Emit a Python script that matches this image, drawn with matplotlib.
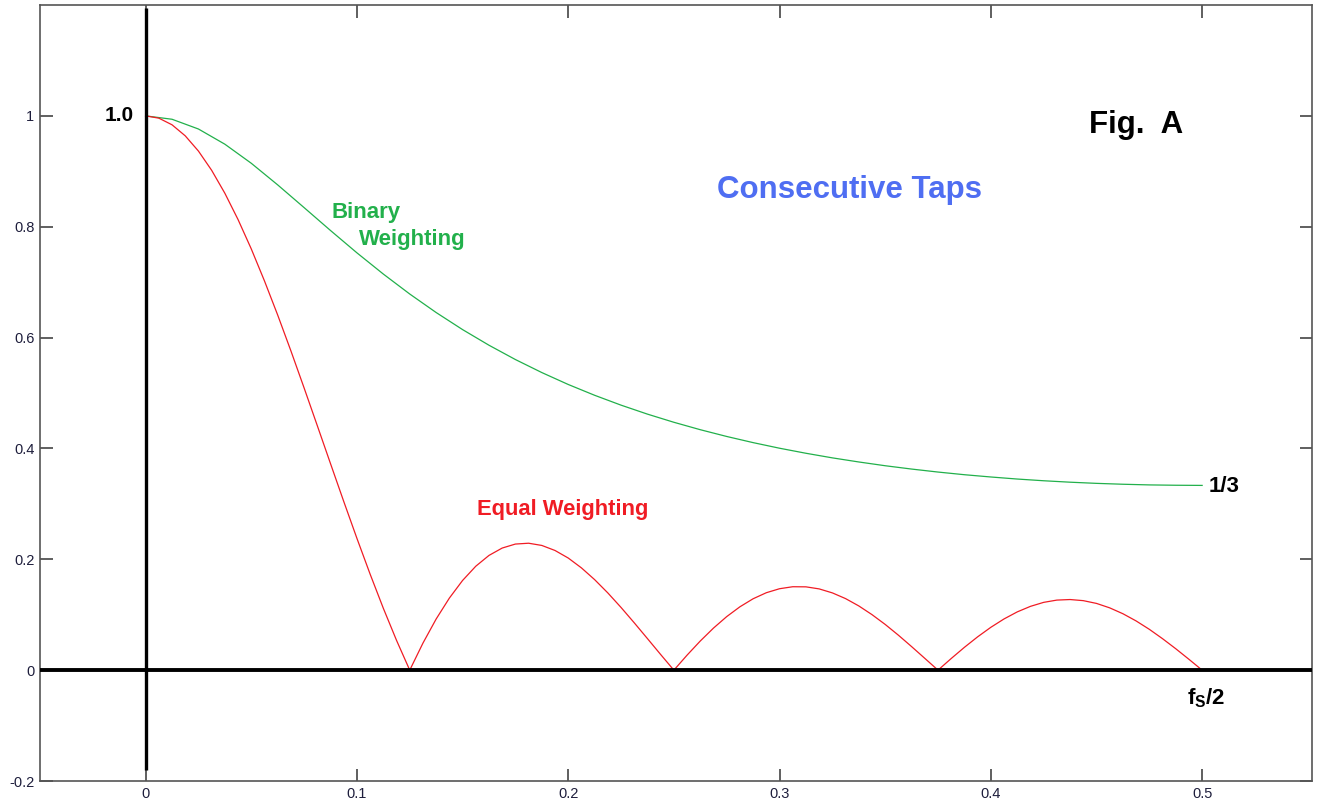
import matplotlib
matplotlib.use("Agg")
import matplotlib.pyplot as plt

plt.rcParams['font.family'] = ['Liberation Sans', 'DejaVu Sans']
plt.rcParams['mathtext.fontset'] = 'custom'
plt.rcParams['mathtext.bf'] = 'Liberation Sans:bold'
plt.rcParams['mathtext.rm'] = 'Liberation Sans'

# Equal weighting (8 consecutive taps), read at steps of fs/160
equal_freq = [i * 0.00625 for i in range(81)]
equal_resp = [
    1.0000, 0.9959, 0.9839, 0.9640, 0.9365, 0.9018, 0.8604, 0.8129, 0.7600, 0.7022,
    0.6407, 0.5761, 0.5092, 0.4411, 0.3726, 0.3045, 0.2378, 0.1732, 0.1116, 0.0537,
    0.0000, 0.0488, 0.0923, 0.1300, 0.1618, 0.1875, 0.2070, 0.2203, 0.2275, 0.2290,
    0.2250, 0.2159, 0.2023, 0.1845, 0.1633, 0.1393, 0.1131, 0.0854, 0.0569, 0.0282,
    0.0000, 0.0271, 0.0526, 0.0759, 0.0966, 0.1143, 0.1288, 0.1397, 0.1469, 0.1505,
    0.1503, 0.1466, 0.1394, 0.1291, 0.1159, 0.1002, 0.0825, 0.0631, 0.0425, 0.0213,
    0.0000, 0.0210, 0.0412, 0.0601, 0.0773, 0.0924, 0.1051, 0.1151, 0.1223, 0.1264,
    0.1274, 0.1254, 0.1204, 0.1124, 0.1018, 0.0888, 0.0737, 0.0568, 0.0387, 0.0196,
    0.0000,
]

# Binary weighting, read at steps of fs/80
binary_freq = [i * 0.0125 for i in range(41)]
binary_resp = [
    1.0000, 0.9939, 0.9763, 0.9489, 0.9145, 0.8755, 0.8345, 0.7932, 0.7529, 0.7146,
    0.6786, 0.6452, 0.6144, 0.5862, 0.5604, 0.5369, 0.5154, 0.4959, 0.4781, 0.4619,
    0.4472, 0.4338, 0.4216, 0.4105, 0.4004, 0.3913, 0.3830, 0.3756, 0.3688, 0.3628,
    0.3574, 0.3526, 0.3485, 0.3448, 0.3417, 0.3391, 0.3370, 0.3354, 0.3342, 0.3336,
    0.3333,
]

x_ticks = [0, 0.1, 0.2, 0.3, 0.4, 0.5]
x_tick_labels = ["0", "0.1", "0.2", "0.3", "0.4", "0.5"]
y_ticks = [-0.2, 0, 0.2, 0.4, 0.6, 0.8, 1.0]
y_tick_labels = ["-0.2", "0", "0.2", "0.4", "0.6", "0.8", "1"]

fig = plt.figure(figsize=(13.19, 8.09), dpi=100)
ax = fig.add_axes([0.0303, 0.0346, 0.9644, 0.9592])
ax.set_xlim(-0.05, 0.552)
ax.set_ylim(-0.2, 1.2)

green = '#22b04b'
red = '#f01c24'

ax.plot(binary_freq, binary_resp, color=green, lw=0.9)
ax.plot(equal_freq, equal_resp, color=red, lw=0.9)

ax.axhline(0, color='black', lw=2.8, zorder=3)
ax.plot([0, 0], [-0.18, 1.195], color='black', lw=2.4, zorder=3, solid_capstyle='butt')

ax.set_xticks(x_ticks)
ax.set_xticklabels(x_tick_labels)
ax.set_yticks(y_ticks)
ax.set_yticklabels(y_tick_labels)
ax.tick_params(direction='in', length=9, width=1.2, color='#444444',
               labelsize=10.5, labelcolor='#1e1e3c', top=True, right=True, pad=4)
for s in ax.spines.values():
    s.set_color('#555555')
    s.set_linewidth(1.2)

ax.text(-0.0057, 1.0, "1.0", fontsize=15, fontweight='bold', ha='right', va='center')
ax.text(0.4465, 0.984, "Fig.  A", fontsize=22.5, fontweight='bold', ha='left', va='center')
ax.text(0.333, 0.867, "Consecutive Taps", fontsize=22.5, fontweight='bold',
        color='#4f6ef2', ha='center', va='center')
ax.text(0.088, 0.825, "Binary", fontsize=16, fontweight='bold', color=green,
        ha='left', va='center')
ax.text(0.101, 0.777, "Weighting", fontsize=16, fontweight='bold', color=green,
        ha='left', va='center')
ax.text(0.1567, 0.29, "Equal Weighting", fontsize=15.8, fontweight='bold', color=red,
        ha='left', va='center')
ax.text(0.5033, 0.3315, "1/3", fontsize=16, fontweight='bold', ha='left', va='center')
ax.text(0.493, -0.05, r"$\mathbf{f_S/2}$", fontsize=16, ha='left', va='center')

fig.savefig("out.png", dpi=100)
